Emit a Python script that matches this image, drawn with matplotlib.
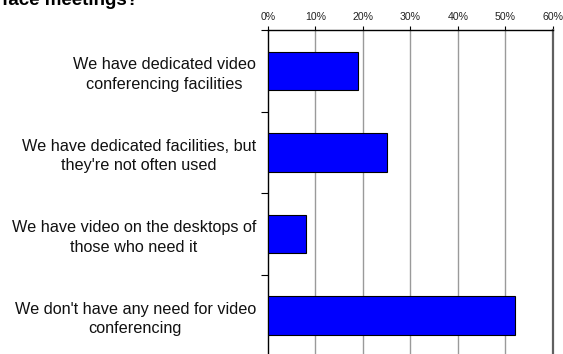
import matplotlib
matplotlib.use("Agg")
import matplotlib.pyplot as plt
import numpy as np

plt.rcParams['font.family'] = ['Liberation Sans', 'DejaVu Sans']

categories = [
    "We have dedicated video\nconferencing facilities",
    "We have dedicated facilities, but\nthey're not often used",
    "We have video on the desktops of\nthose who need it",
    "We don't have any need for video\nconferencing",
]
shares = [19, 25, 8, 52]
x_ticks = [0, 10, 20, 30, 40, 50, 60]
x_tick_labels = ["0%", "10%", "20%", "30%", "40%", "50%", "60%"]
title = "face meetings?"

fig = plt.figure(figsize=(5.63, 3.54), dpi=100)
ax = fig.add_axes([0.476, -0.006, 0.5057, 0.921])

y = np.arange(len(categories))
ax.barh(y, shares, height=0.47, color="#0000FF", edgecolor="black", linewidth=0.8, zorder=3)

ax.set_xlim(0, 60)
ax.set_ylim(len(categories) - 0.5, -0.5)

ax.xaxis.tick_top()
ax.set_xticks(x_ticks)
ax.set_xticklabels(x_tick_labels, fontsize=7.6, color="#222222")
ax.tick_params(axis="x", length=3, width=0.8, pad=3, direction="out")
for xv in x_ticks[1:-1]:
    ax.axvline(xv, color="#9a9a9a", linewidth=1.0, zorder=1)

ax.set_yticks(y)
ax.set_yticklabels(categories, fontsize=11.7, ha="right", multialignment="center",
                   linespacing=1.36, color="#111111")
ax.tick_params(axis="y", length=0, pad=8.6)
ax.set_yticks(np.arange(-0.5, len(categories) + 0.5, 1), minor=True)
ax.tick_params(axis="y", which="minor", length=5, width=0.8, direction="out")

ax.spines["bottom"].set_visible(False)
ax.spines["left"].set_linewidth(1.0)
ax.spines["top"].set_linewidth(1.0)
ax.spines["right"].set_color("#606060")
ax.spines["right"].set_linewidth(1.6)

fig.text(138 / 563, 1 - 5 / 354, title, fontsize=13.5, fontweight="bold",
         va="baseline", ha="right")

fig.savefig("out.png", dpi=100)
